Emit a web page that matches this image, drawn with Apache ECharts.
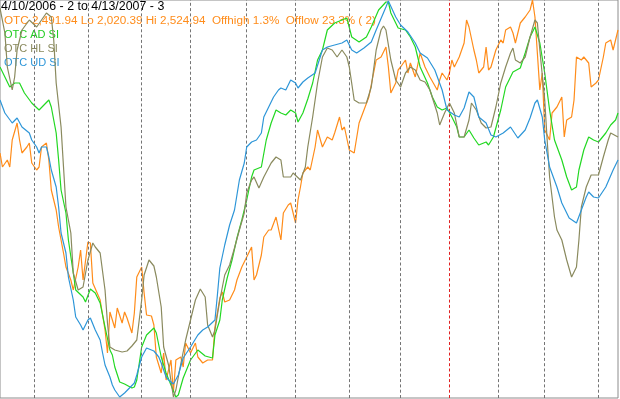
<!DOCTYPE html>
<html><head><meta charset="utf-8">
<script src="https://cdn.jsdelivr.net/npm/echarts@6/dist/echarts.min.js"></script>
<style>html,body{margin:0;padding:0;background:#fff}#c{width:620px;height:399px}</style>
</head><body><div id="c"></div>
<script>
// Trading-day index (0 = 4/10/2006, 253 = 4/13/2007) and scaled values (each series normalised to its own range)
const otcDays=[0,1,3,4,5,7,8,9,11,12,13,15,16,17,19,20,21,23,24,25,26,27,29,30,32,33,34,36,37,38,41,43,44,45,47,48,50,51,52,54,55,56,58,59,60,62,63,64,66,67,68,70,71,72,74,75,76,78,80,81,83,85,87,88,90,91,92,94,96,97,99,101,103,104,105,107,108,110,111,113,115,116,118,119,121,122,123,124,126,127,129,130,132,134,136,137,139,140,141,143,145,147,149,151,154,156,158,159,160,162,163,164,166,167,168,170,172,174,176,179,180,181,183,184,185,186,188,190,191,192,194,195,196,198,199,200,201,203,205,206,207,209,210,211,213,215,217,218,219,221,222,223,225,226,228,230,231,232,234,235,236,238,239,241,242,244,245,247,248,250,251,253];
const otcValues=[245,231,238,231,258,275,258,245,251,255,235,228,231,251,255,238,208,188,171,158,145,131,118,108,131,148,118,156,155,115,98,68,45,86,70,90,75,86,80,65,85,121,131,105,83,82,73,41,25,45,18,38,6,38,41,31,55,45,55,41,35,38,38,71,100,106,96,98,108,118,131,141,151,118,123,143,161,168,168,181,158,185,193,195,175,198,211,225,231,228,251,268,251,261,258,265,281,268,271,248,245,275,288,301,338,341,351,331,305,315,328,331,338,325,335,321,345,331,321,308,318,325,318,325,338,331,341,355,378,371,348,338,325,331,351,328,331,348,358,355,368,371,365,355,375,381,388,398,381,308,325,268,258,285,291,301,261,278,281,298,341,338,341,335,311,315,318,341,355,358,348,368];

const adDays=[0,2,4,6,8,10,13,16,18,20,21,23,24,25,27,28,30,31,34,35,37,39,41,43,45,46,47,49,51,54,55,56,58,60,63,64,66,68,70,72,73,75,78,81,84,87,88,90,91,93,95,97,99,101,103,104,107,109,111,113,115,117,119,121,122,124,126,128,130,132,134,137,140,142,144,147,150,152,155,158,159,160,163,166,168,170,172,175,177,179,181,183,185,187,188,190,192,194,196,199,200,202,205,207,210,213,215,217,219,221,223,225,227,230,232,234,236,237,239,241,243,245,248,250,252,253];
const adValues=[331,321,311,315,315,305,295,288,293,298,291,265,238,208,185,158,125,108,101,96,109,105,95,71,48,43,31,16,14,10,11,18,51,63,70,65,41,25,13,1,3,20,38,48,42,40,63,78,98,120,138,160,178,198,221,228,231,258,275,288,285,283,288,285,276,285,299,315,338,348,368,375,378,380,361,356,361,371,388,396,396,385,370,368,361,351,331,315,301,291,288,290,281,271,261,261,268,260,253,256,253,261,288,311,326,330,345,361,371,355,325,288,258,238,221,208,211,228,248,261,258,256,265,273,278,285];

const hlDays=[0,2,3,5,6,7,9,12,15,17,19,21,22,23,25,26,27,29,30,32,34,36,38,39,41,43,44,45,47,50,52,54,56,58,59,61,63,64,66,67,69,71,72,74,76,78,80,82,84,85,87,88,90,92,94,96,98,100,101,103,104,106,108,111,113,115,116,119,120,123,125,126,128,130,132,134,136,138,140,142,143,145,147,150,152,154,156,157,158,160,162,164,166,168,170,172,174,176,179,180,182,184,186,188,190,192,193,195,197,199,201,203,205,207,209,210,211,213,215,217,219,220,221,223,224,225,227,228,230,232,234,236,237,238,240,242,245,247,249,250,253];
const hlValues=[390,365,331,308,321,348,368,378,371,378,385,381,358,315,271,231,191,165,125,108,111,138,155,151,145,108,75,51,48,46,47,52,58,98,123,138,132,121,91,51,33,1,8,34,58,78,98,109,101,73,61,68,98,123,133,150,168,185,205,218,221,210,221,235,241,238,221,221,225,218,231,251,281,315,341,350,348,341,348,341,331,298,295,295,311,348,368,372,368,338,318,311,325,331,328,318,316,308,285,273,285,295,285,261,261,278,295,288,275,270,271,291,315,331,345,350,338,335,341,361,378,375,348,298,258,221,181,168,158,138,121,131,158,191,211,223,223,241,258,265,261];

const udDays=[0,2,5,7,9,12,13,15,16,17,19,20,21,23,24,25,27,28,30,31,33,34,36,37,39,41,42,43,45,46,47,49,51,53,55,56,58,60,62,63,65,66,68,69,71,73,75,78,81,83,85,88,89,90,92,94,96,97,98,100,101,103,105,107,108,110,112,114,115,117,119,121,122,124,126,129,132,134,137,140,142,144,146,149,152,154,158,159,162,164,167,170,172,175,178,181,183,186,188,190,192,194,196,199,201,203,206,209,212,215,217,219,220,222,223,225,228,230,233,236,238,240,241,243,245,248,251,253];
const udValues=[298,285,275,280,271,265,258,251,245,251,251,241,228,211,191,165,145,121,98,81,73,68,78,80,68,58,45,33,21,13,8,1,5,10,15,23,41,50,48,47,41,35,21,18,14,23,40,51,63,68,71,78,103,130,153,173,188,203,218,235,251,256,258,265,281,291,301,308,310,308,318,315,310,316,320,325,348,351,353,355,358,348,345,350,356,368,391,397,381,373,366,355,345,340,328,308,288,283,281,290,306,301,281,275,263,261,265,271,260,268,280,295,298,281,258,231,211,195,180,175,188,201,206,201,200,211,228,238];

// First trading day of each month (trading-day index); 184 = first day of 2007
const monthStartDays=[14,36,58,78,101,121,143,164,184,204,223,245];
const yearStartDay=184;

const headerTexts=[
  '4/10/2006 - 2 to 4/13/2007 - 3',
  'OTC 2,491.94 Lo 2,020.39 Hi 2,524.94  Offhigh 1.3%  Offlow 23.3% ( 2)',
  'OTC AD SI',
  'OTC HL SI',
  'OTC UD SI'
];

function pairs(d,v){return d.map((x,i)=>[x,v[i]]);}

const C_OTC='#ff8c1a', C_AD='#22d822', C_HL='#8a8a5e', C_UD='#2e96d8';
const FAM='"Liberation Sans", Arial, sans-serif';
const textFonts=['12.4px '+FAM,'11.7px '+FAM,'11px '+FAM,'11px '+FAM,'11px '+FAM];
const textColors=['#000000',C_OTC,'#22cc22',C_HL,C_UD];
const textX=[1,4,4,4,4];
const textY=[0.5,15,29,43,57];

const chart=echarts.init(document.getElementById('c'),null,{renderer:'canvas'});
chart.setOption({
  animation:false,
  backgroundColor:'#ffffff',
  grid:{left:0,top:0,width:618,height:398,show:true,borderColor:'#8c8c8c',borderWidth:1},
  xAxis:{type:'value',min:0,max:253,show:false},
  yAxis:{type:'value',min:0,max:398,show:false},
  graphic:headerTexts.map((t,i)=>({
    type:'text',x:textX[i],y:textY[i],z:0,silent:true,
    style:{text:t,fill:textColors[i],font:textFonts[i],textVerticalAlign:'top'}
  })),
  series:[
    {name:'OTC',type:'line',data:pairs(otcDays,otcValues),showSymbol:false,z:3,
     lineStyle:{color:C_OTC,width:1.2},itemStyle:{color:C_OTC},
     markLine:{silent:true,symbol:'none',label:{show:false},animation:false,
       data:monthStartDays.map(d=>({xAxis:d,lineStyle:{color:d===yearStartDay?'#e02020':'#747474',type:[3,2.3],width:1}}))}},
    {name:'OTC AD SI',type:'line',data:pairs(adDays,adValues),showSymbol:false,z:4,
     lineStyle:{color:C_AD,width:1.2},itemStyle:{color:C_AD}},
    {name:'OTC HL SI',type:'line',data:pairs(hlDays,hlValues),showSymbol:false,z:5,
     lineStyle:{color:C_HL,width:1.2},itemStyle:{color:C_HL}},
    {name:'OTC UD SI',type:'line',data:pairs(udDays,udValues),showSymbol:false,z:6,
     lineStyle:{color:C_UD,width:1.2},itemStyle:{color:C_UD}}
  ]
});
</script></body></html>
